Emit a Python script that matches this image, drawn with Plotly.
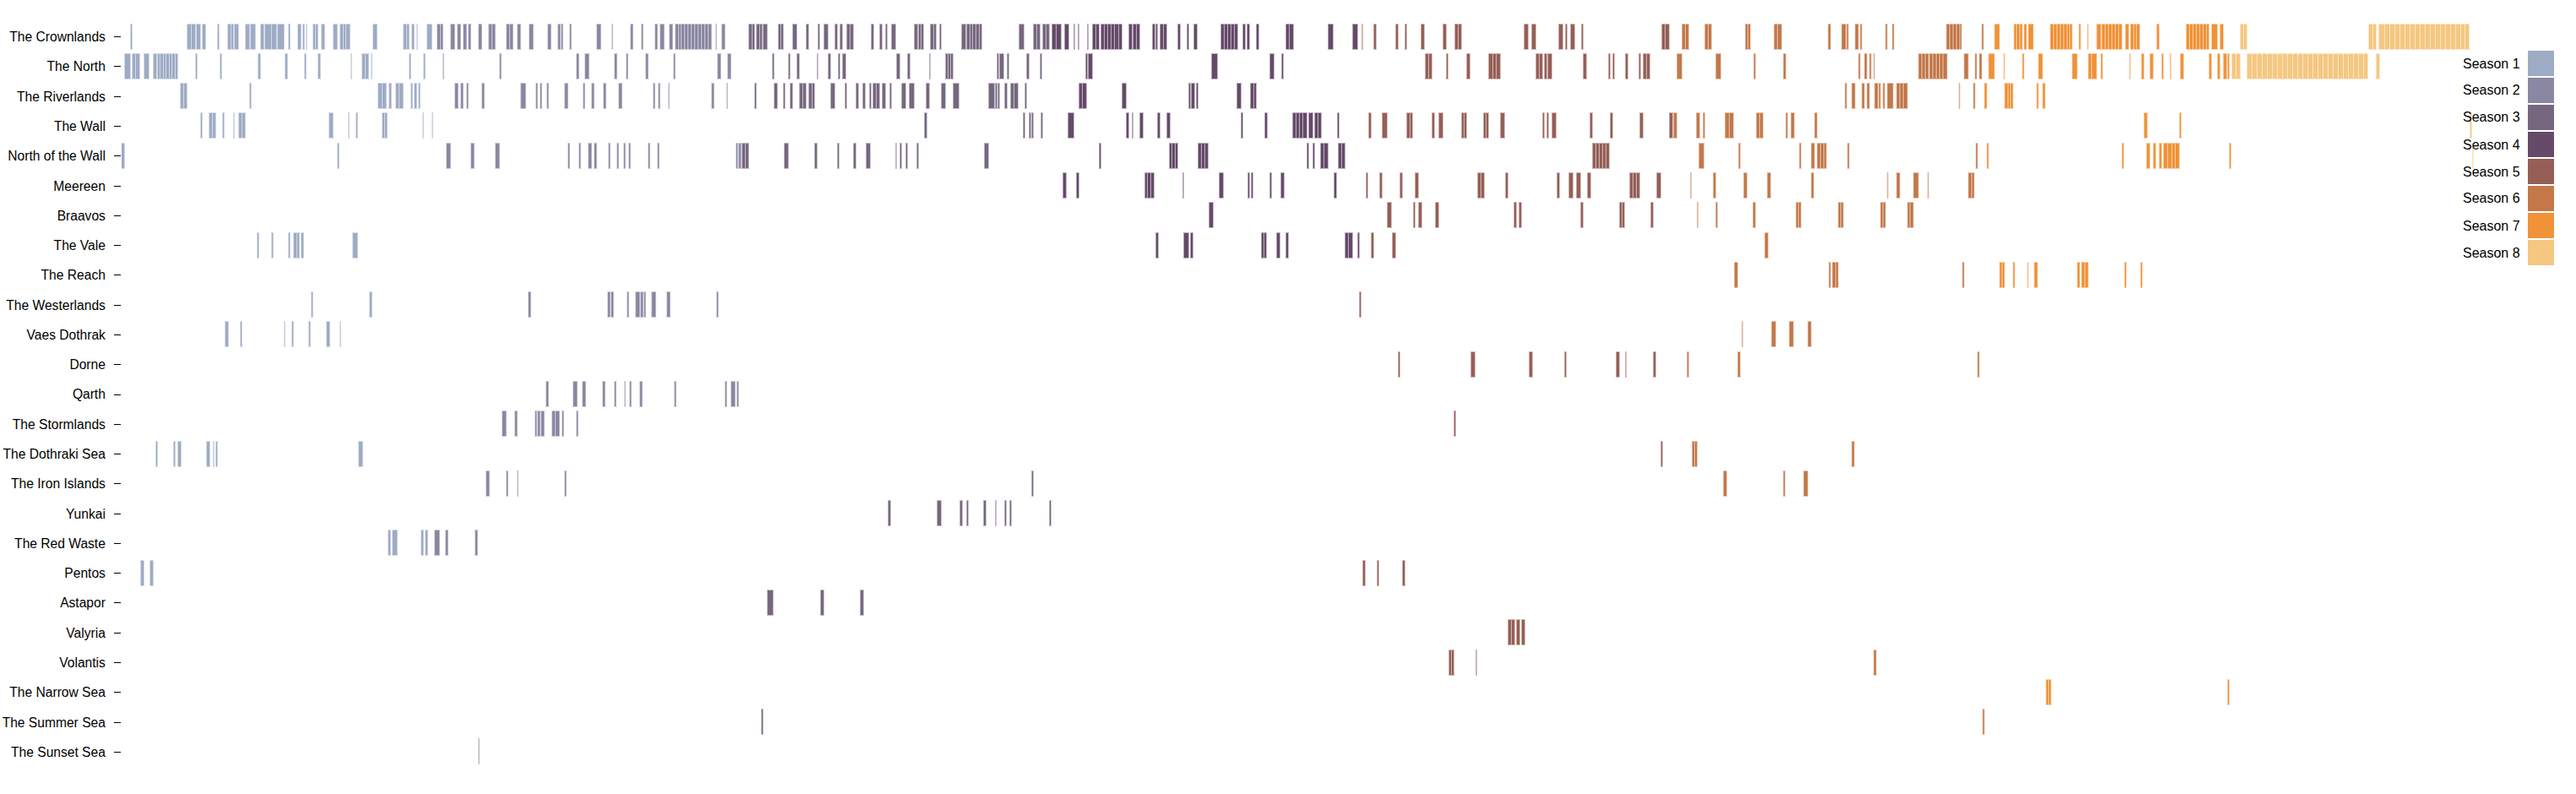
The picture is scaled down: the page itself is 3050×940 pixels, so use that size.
import bisect
import plotly.graph_objects as go

# ---------------- data ----------------
locations = ["The Crownlands", "The North", "The Riverlands", "The Wall", "North of the Wall",
             "Meereen", "Braavos", "The Vale", "The Reach", "The Westerlands", "Vaes Dothrak",
             "Dorne", "Qarth", "The Stormlands", "The Dothraki Sea", "The Iron Islands", "Yunkai",
             "The Red Waste", "Pentos", "Astapor", "Valyria", "Volantis", "The Narrow Sea",
             "The Summer Sea", "The Sunset Sea"]

seasons = ["Season 1", "Season 2", "Season 3", "Season 4", "Season 5", "Season 6", "Season 7", "Season 8"]
season_colors = ["#9eabc5", "#8a87a2", "#76677f", "#654a69", "#955f57", "#c47849", "#f09238", "#f5c781"]
# cumulative screen-time position (scaled minutes) at which each season begins
season_start = [0, 371, 735, 1101.5, 1466, 1838, 2206, 2498.5]
total_time = 2786

# scenes per location: [start, end] in cumulative screen time
crownlands = [
    [11, 13], [78, 83], [83, 88], [89, 94], [96, 100], [114, 116], [126, 130], [130, 133], [134, 139],
    [147, 152], [153, 159], [165, 169], [170, 178], [178, 184], [185, 193], [198, 200], [209, 213],
    [215, 217], [219, 220], [227, 230], [230, 233], [237, 241], [251, 256], [259, 263], [263, 266],
    [266, 271], [298, 303], [334, 338], [338, 341], [344, 347], [350, 351], [362, 368],
    [374, 378], [378, 381], [390, 395], [398, 402], [405, 409], [411, 414], [423, 427], [435, 439],
    [439, 443], [456, 460], [460, 464], [469, 473], [483, 488], [505, 509], [517, 520], [521, 523],
    [531, 533], [563, 568], [581, 582], [603, 606], [616, 618], [632, 635], [638, 643], [649, 653],
    [656, 660], [660, 663], [663, 667], [667, 671], [671, 675], [675, 679], [679, 683], [683, 687],
    [687, 691], [691, 695], [695, 699], [704, 705], [711, 715],
    [743, 747], [747, 750], [752, 756], [756, 759], [760, 765], [778, 781], [781, 784], [795, 800],
    [811, 814], [825, 827], [832, 837], [845, 848], [851, 854], [859, 863], [863, 867], [888, 891],
    [898, 901], [905, 907], [912, 917], [939, 943], [944, 947], [947, 950], [958, 962], [962, 965],
    [969, 971], [995, 1000], [1001, 1005], [1005, 1008], [1008, 1012], [1012, 1016], [1016, 1019],
    [1063, 1069], [1080, 1084], [1084, 1088], [1091, 1095], [1095, 1099],
    [1102, 1107], [1107, 1113], [1117, 1122], [1128, 1129], [1133, 1134], [1144, 1145], [1150, 1154],
    [1154, 1158], [1160, 1164], [1164, 1168], [1168, 1172], [1172, 1176], [1176, 1181], [1181, 1185],
    [1193, 1197], [1198, 1202], [1202, 1206], [1221, 1224], [1225, 1227], [1230, 1234], [1234, 1238],
    [1251, 1254], [1262, 1264], [1270, 1274], [1302, 1306], [1306, 1310], [1310, 1314], [1314, 1318],
    [1318, 1322], [1328, 1331], [1333, 1336], [1344, 1347], [1379, 1383], [1383, 1388], [1429, 1435],
    [1458, 1464],
    [1469, 1470], [1483, 1486], [1509, 1512], [1520, 1522], [1539, 1543], [1565, 1569], [1579, 1583],
    [1583, 1587], [1661, 1666], [1670, 1675], [1702, 1707], [1710, 1712], [1716, 1721], [1729, 1731],
    [1824, 1828], [1828, 1833],
    [1848, 1852], [1852, 1856], [1875, 1879], [1879, 1883], [1923, 1926], [1926, 1929], [1957, 1961],
    [1961, 1966], [2021, 2024], [2037, 2042], [2043, 2045], [2053, 2057], [2059, 2061], [2089, 2091],
    [2097, 2099], [2161, 2165], [2165, 2169], [2169, 2173], [2173, 2177], [2177, 2179], [2203, 2205],
    [2218, 2224], [2241, 2244], [2244, 2248], [2248, 2251], [2253, 2256], [2258, 2264], [2284, 2288],
    [2288, 2292], [2292, 2296], [2296, 2300], [2300, 2304], [2304, 2307], [2307, 2310], [2318, 2320],
    [2328, 2329], [2339, 2344], [2345, 2349], [2349, 2353], [2353, 2357], [2357, 2361], [2361, 2365],
    [2365, 2369], [2373, 2377], [2379, 2383], [2383, 2386], [2386, 2390], [2410, 2413], [2445, 2449],
    [2449, 2453], [2453, 2457], [2457, 2461], [2461, 2465], [2465, 2469], [2469, 2472], [2475, 2482],
    [2485, 2489],
    [2509, 2513], [2513, 2517], [2661, 2666], [2666, 2670], [2673, 2680], [2680, 2686], [2686, 2692],
    [2692, 2698], [2698, 2704], [2704, 2710], [2710, 2716], [2716, 2722], [2722, 2728], [2728, 2734],
    [2734, 2740], [2740, 2746], [2746, 2752], [2752, 2758], [2758, 2764], [2764, 2770], [2770, 2775],
    [2775, 2780],
]

north = [
    [4, 11], [13, 17], [17, 22], [27, 33], [38, 42], [43, 46], [46, 50], [50, 53], [53, 57], [57, 60],
    [60, 64], [64, 67], [88, 90], [117, 119], [162, 165], [194, 197], [217, 219], [233, 236], [272, 273],
    [285, 289], [289, 293], [296, 297], [341, 343], [358, 360],
    [381, 382], [448, 450], [539, 542], [549, 554], [584, 587], [598, 600], [621, 624], [654, 656],
    [706, 710], [718, 722],
    [771, 773], [790, 792], [800, 803], [824, 825], [837, 840], [849, 851], [854, 858], [918, 922],
    [931, 934], [957, 958], [976, 979], [979, 982], [982, 985], [1037, 1039], [1040, 1045], [1049, 1051],
    [1072, 1075], [1088, 1090],
    [1142, 1144], [1145, 1150], [1291, 1298], [1360, 1365], [1374, 1376],
    [1544, 1548], [1548, 1552], [1569, 1571], [1593, 1597], [1619, 1624], [1624, 1628], [1628, 1633],
    [1675, 1679], [1679, 1683], [1685, 1688], [1689, 1694], [1731, 1735], [1761, 1763], [1766, 1768],
    [1781, 1784], [1797, 1799], [1802, 1806], [1806, 1810],
    [1842, 1848], [1888, 1894], [1933, 1935], [1968, 1971], [2057, 2059], [2064, 2067], [2070, 2072],
    [2075, 2076], [2128, 2132], [2132, 2136], [2136, 2140], [2141, 2145], [2145, 2149], [2149, 2153],
    [2153, 2157], [2157, 2162], [2182, 2187], [2195, 2197], [2200, 2203],
    [2211, 2218], [2229, 2230], [2251, 2253], [2270, 2275], [2310, 2316], [2329, 2333], [2333, 2339],
    [2344, 2346], [2378, 2379], [2392, 2395], [2402, 2406], [2416, 2418], [2426, 2427], [2438, 2442],
    [2472, 2475], [2482, 2485], [2489, 2493], [2494, 2496],
    [2499, 2504], [2504, 2509], [2517, 2523], [2523, 2529], [2529, 2535], [2535, 2541], [2541, 2547],
    [2547, 2553], [2553, 2559], [2559, 2565], [2565, 2571], [2571, 2577], [2577, 2583], [2583, 2589],
    [2589, 2595], [2595, 2601], [2601, 2607], [2607, 2613], [2613, 2619], [2619, 2625], [2625, 2631],
    [2631, 2637], [2637, 2643], [2643, 2649], [2649, 2655], [2655, 2660], [2670, 2674],
]

riverlands = [
    [70, 74], [74, 78], [152, 154], [304, 309], [309, 314], [317, 320], [325, 329], [329, 334],
    [343, 345], [347, 350], [352, 354],
    [395, 399], [402, 405], [409, 411], [427, 430], [473, 479], [491, 493], [496, 498], [504, 506],
    [525, 529], [547, 549], [557, 560], [571, 574], [589, 593], [630, 632], [636, 638], [648, 649],
    [699, 702], [717, 718],
    [750, 752], [773, 777], [784, 786], [792, 795], [803, 807], [807, 811], [814, 818], [818, 821],
    [840, 845], [857, 859], [870, 873], [878, 881], [886, 888], [890, 894], [894, 898], [901, 905],
    [910, 912], [924, 929], [933, 939], [953, 957], [971, 976], [985, 992], [1027, 1034], [1035, 1037],
    [1038, 1040], [1046, 1049], [1053, 1057], [1057, 1062], [1070, 1072],
    [1134, 1138], [1138, 1143], [1185, 1190], [1264, 1266], [1267, 1271], [1273, 1275], [1321, 1326],
    [1337, 1341], [1341, 1344],
    [2041, 2043], [2049, 2053], [2061, 2064], [2067, 2070], [2076, 2080], [2081, 2083], [2086, 2088],
    [2091, 2098], [2102, 2106], [2106, 2110], [2110, 2115], [2176, 2177], [2193, 2195],
    [2206, 2209], [2230, 2234], [2234, 2237], [2237, 2240], [2268, 2270], [2275, 2278],
]

the_wall = [
    [94, 96], [104, 108], [108, 112], [120, 122], [133, 134], [139, 143], [143, 147], [246, 251],
    [269, 270], [278, 280], [309, 312], [312, 315], [357, 358], [368, 369],
    [951, 954], [1068, 1070], [1075, 1077], [1078, 1080], [1089, 1091],
    [1121, 1128], [1190, 1193], [1197, 1198], [1206, 1210], [1227, 1230], [1238, 1242], [1326, 1328],
    [1354, 1357], [1387, 1391], [1391, 1395], [1395, 1399], [1399, 1404], [1406, 1411], [1413, 1417],
    [1417, 1421], [1440, 1442],
    [1477, 1480], [1493, 1499], [1522, 1526], [1526, 1529], [1552, 1555], [1560, 1565], [1587, 1590],
    [1590, 1593], [1613, 1616], [1616, 1619], [1633, 1638], [1683, 1685], [1688, 1690], [1694, 1699],
    [1739, 1742], [1763, 1766], [1798, 1802], [1833, 1837],
    [1838, 1842], [1865, 1869], [1873, 1875], [1899, 1904], [1904, 1909], [1936, 1940], [1940, 1944],
    [1971, 1973], [1977, 1981], [2005, 2008],
    [2395, 2399], [2437, 2439],
    [2781, 2783],
]

north_of_the_wall = [
    [0, 4], [256, 258],
    [385, 390], [414, 418], [443, 448], [529, 531], [542, 544], [553, 557], [560, 563], [577, 579],
    [587, 589], [595, 597], [601, 603], [624, 626], [635, 637], [728, 730], [731, 734],
    [735, 739], [739, 743], [785, 790], [821, 824], [848, 850], [867, 870], [882, 887], [917, 918],
    [922, 924], [929, 931], [942, 944], [1022, 1027],
    [1158, 1160], [1241, 1244], [1244, 1248], [1248, 1251], [1275, 1279], [1279, 1283], [1283, 1287],
    [1404, 1406], [1411, 1413], [1420, 1424], [1424, 1429], [1441, 1445], [1445, 1449],
    [1742, 1746], [1746, 1750], [1750, 1754], [1754, 1758], [1758, 1762],
    [1868, 1874], [1915, 1917], [1987, 1989], [2001, 2005], [2008, 2012], [2012, 2016], [2016, 2019],
    [2044, 2046], [2196, 2198],
    [2209, 2211], [2369, 2371], [2398, 2402], [2406, 2409], [2413, 2416], [2418, 2423], [2423, 2428],
    [2428, 2432], [2432, 2437], [2496, 2498],
    [2784, 2785],
]

meereen = [
    [1115, 1119], [1131, 1134], [1212, 1215], [1215, 1219], [1219, 1223], [1257, 1258], [1300, 1305],
    [1334, 1336], [1338, 1340], [1360, 1362], [1373, 1377], [1436, 1439],
    [1474, 1476], [1490, 1493], [1514, 1517], [1532, 1536], [1606, 1610], [1610, 1614], [1639, 1642],
    [1700, 1703], [1714, 1719], [1723, 1728], [1736, 1740], [1786, 1790], [1790, 1794], [1794, 1798],
    [1818, 1823],
    [1858, 1859], [1885, 1888], [1921, 1925], [1949, 1953], [2001, 2004], [2091, 2092], [2102, 2106],
    [2122, 2128], [2139, 2140], [2187, 2191], [2191, 2194],
]

braavos = [
    [1288, 1293],
    [1499, 1504], [1530, 1532], [1536, 1540], [1556, 1560], [1649, 1652], [1655, 1658], [1728, 1731],
    [1774, 1777], [1777, 1780], [1811, 1814],
    [1866, 1867], [1888, 1890], [1932, 1935], [1983, 1986], [1986, 1989], [2033, 2036], [2036, 2039],
    [2083, 2086], [2086, 2089], [2115, 2118], [2118, 2122],
]

the_vale = [
    [161, 163], [178, 180], [198, 200], [204, 208], [208, 211], [213, 216], [274, 280],
    [1225, 1228], [1258, 1264], [1266, 1269], [1350, 1353], [1353, 1356], [1368, 1372], [1379, 1382],
    [1449, 1453], [1453, 1458], [1464, 1466],
    [1480, 1483], [1505, 1509],
    [1946, 1950],
]

the_reach = [
    [1910, 1914], [2022, 2024], [2026, 2030], [2030, 2033], [2180, 2182],
    [2224, 2227], [2227, 2230], [2240, 2242], [2257, 2258], [2265, 2269], [2316, 2319], [2321, 2325],
    [2325, 2329], [2372, 2374], [2391, 2393],
]

the_westerlands = [
    [225, 227], [294, 297],
    [482, 485], [576, 579], [580, 583], [599, 601], [609, 614], [615, 618], [619, 621], [628, 633],
    [646, 650], [705, 707],
    [1466, 1468],
]

vaes_dothrak = [
    [123, 127], [141, 143], [193, 194], [202, 204], [222, 224], [243, 247], [259, 260],
    [1919, 1920], [1954, 1959], [1975, 1980], [1997, 2001],
]

dorne = [
    [1512, 1514], [1598, 1603], [1667, 1671], [1709, 1711], [1770, 1774], [1781, 1782], [1814, 1817],
    [1854, 1856], [1914, 1917], [2198, 2200],
]

qarth = [
    [503, 506], [535, 540], [546, 550], [570, 573], [584, 586], [596, 597], [602, 604], [614, 617],
    [655, 657], [715, 717], [722, 727], [729, 731],
]

the_stormlands = [
    [451, 456], [466, 469], [490, 492], [493, 496], [497, 501], [510, 514], [514, 519], [522, 524],
    [539, 541],
    [1578, 1580],
]

the_dothraki_sea = [
    [41, 43], [62, 64], [67, 71], [101, 105], [109, 110], [112, 114], [281, 286],
    [1823, 1825], [1860, 1863], [1863, 1866], [2049, 2052],
]

the_iron_islands = [
    [432, 436], [456, 458], [469, 470], [525, 527],
    [1078, 1080],
    [1897, 1901], [1968, 1970], [1992, 1997],
]

yunkai = [
    [908, 911], [966, 971], [993, 996], [1001, 1003], [1021, 1024], [1035, 1036], [1046, 1048],
    [1052, 1054], [1099, 1101],
]

the_red_waste = [
    [316, 319], [321, 327], [355, 358], [360, 363], [371, 377], [384, 387], [419, 422],
]

pentos = [
    [23, 27], [34, 38],
    [1470, 1473], [1487, 1489], [1517, 1520],
]

astapor = [[765, 772], [828, 832], [875, 879]]

valyria = [[1642, 1646], [1646, 1650], [1652, 1656], [1658, 1662]]

volantis = [[1572, 1575], [1575, 1578], [1604, 1605], [2075, 2078]]

the_narrow_sea = [[2279, 2282], [2282, 2285], [2494, 2496]]

the_summer_sea = [[758, 760], [2204, 2205.5]]

the_sunset_sea = [[423, 424]]

scene_lists = [crownlands, north, riverlands, the_wall, north_of_the_wall, meereen, braavos,
               the_vale, the_reach, the_westerlands, vaes_dothrak, dorne, qarth, the_stormlands,
               the_dothraki_sea, the_iron_islands, yunkai, the_red_waste, pentos, astapor, valyria,
               volantis, the_narrow_sea, the_summer_sea, the_sunset_sea]

# ---------------- build ----------------
by_season = {i: {"y": [], "base": [], "x": []} for i in range(len(seasons))}
for loc, scenes in zip(locations, scene_lists):
    for start, end in scenes:
        s = bisect.bisect_right(season_start, start) - 1
        by_season[s]["y"].append(loc)
        by_season[s]["base"].append(start)
        by_season[s]["x"].append(end - start)


def tint(hex_color, amount=0.55):
    """Mix a colour with white (used for the light outline of each scene bar)."""
    h = hex_color.lstrip("#")
    r, g, b = (int(h[k:k + 2], 16) for k in (0, 2, 4))
    r, g, b = (round(c + (255 - c) * amount) for c in (r, g, b))
    return f"rgb({r},{g},{b})"


FONT = "Liberation Sans, Arial, Helvetica, sans-serif"
fig = go.Figure()
for i, name in enumerate(seasons):
    d = by_season[i]
    fig.add_trace(go.Bar(
        orientation="h", y=d["y"], x=d["x"], base=d["base"], width=0.85,
        name=name, showlegend=False,
        marker=dict(color=season_colors[i], line=dict(color=tint(season_colors[i]), width=1)),
    ))

W, H = 3050, 940
ML, MR, MT, MB = 144, 120, 26, 32
plot_w = W - ML - MR
plot_h = H - MT - MB


def px_x(px):
    return (px - ML) / plot_w


def px_y(py):
    return (H - MB - py) / plot_h


shapes, annotations = [], []
for i, name in enumerate(seasons):
    top = 60 + 32.0 * i
    shapes.append(dict(type="rect", xref="paper", yref="paper",
                       x0=px_x(2993), x1=px_x(3024), y0=px_y(top + 30), y1=px_y(top),
                       fillcolor=season_colors[i], line=dict(width=0)))
    annotations.append(dict(text=name, xref="paper", yref="paper", x=px_x(2986), y=px_y(top + 15),
                            xanchor="right", yanchor="middle", showarrow=False,
                            font=dict(family=FONT, size=16, color="#000")))

fig.update_layout(
    width=W, height=H, margin=dict(l=ML, r=MR, t=MT, b=MB, autoexpand=False),
    paper_bgcolor="white", plot_bgcolor="white", barmode="overlay", bargap=0,
    shapes=shapes, annotations=annotations,
    xaxis=dict(range=[0, total_time], visible=False, automargin=False),
    yaxis=dict(type="category", categoryorder="array", categoryarray=locations,
               range=[len(locations) - 0.5, -0.5], showgrid=False, zeroline=False, showline=False,
               automargin=False,
               ticks="outside", ticklen=8, tickwidth=1.2, tickcolor="#000", ticklabelstandoff=7,
               tickfont=dict(family=FONT, size=15.6, color="#000")),
)

fig.write_html("out.html", config={"displayModeBar": False},
               post_script="document.body.style.margin='0';document.body.style.overflow='hidden';")
